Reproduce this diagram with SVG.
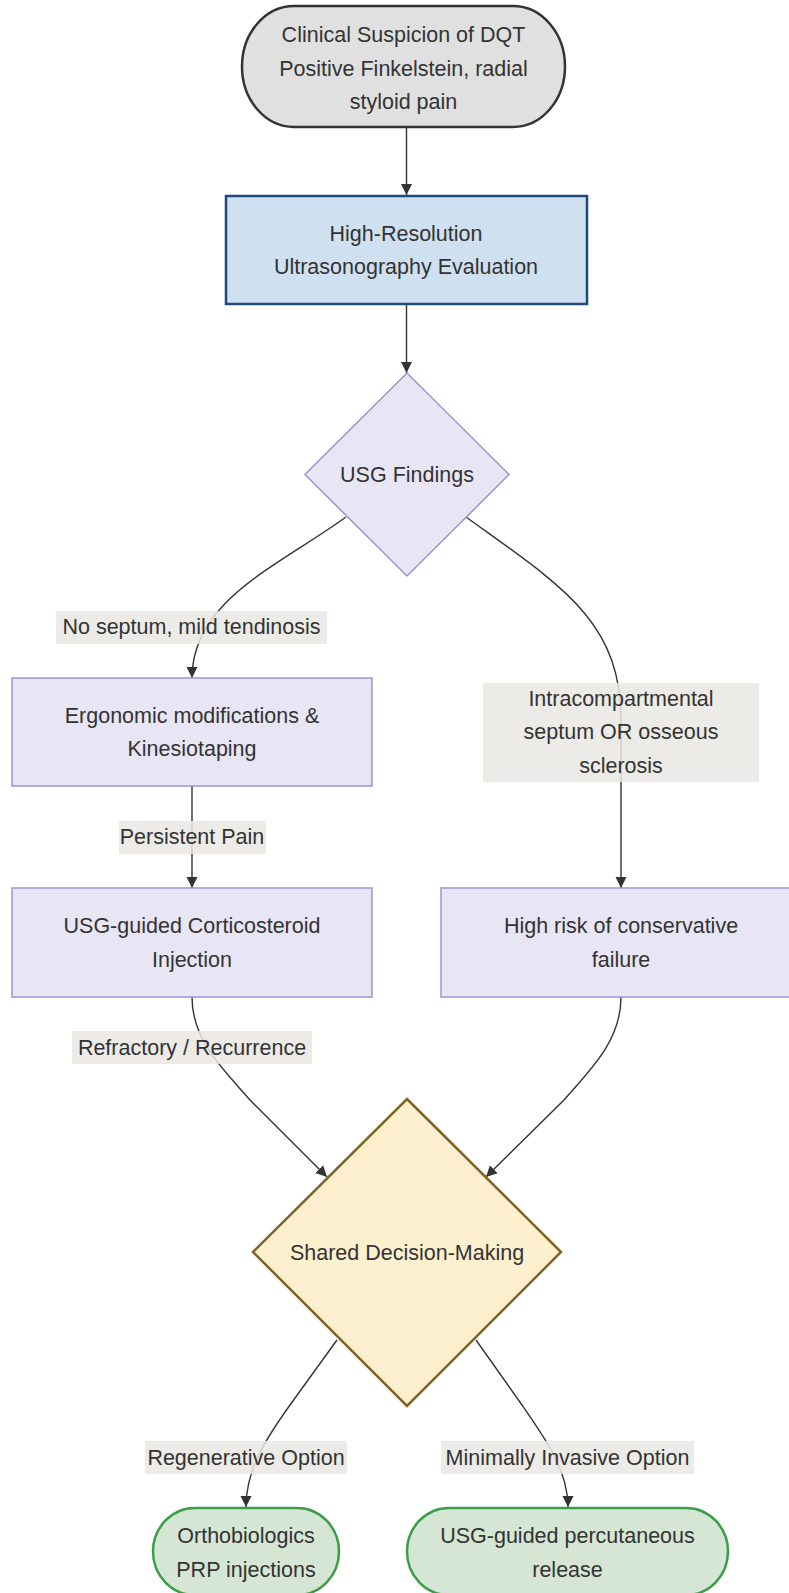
<svg xmlns="http://www.w3.org/2000/svg" width="789" height="1593" viewBox="0 0 789 1593">
<style>
  text { font-family: "Liberation Sans", Arial, sans-serif; font-size: 21.5px; fill: #333333; text-anchor: middle; }
  .edge { fill: none; stroke: #333333; stroke-width: 1.4; marker-end: url(#arrow); }
  .lbl { fill: #e9e7e3; opacity: 0.85; }
  .purple { fill: #e8e6f5; stroke: #9f92d0; stroke-width: 1.5; }
  .green { fill: #d6e6d5; stroke: #3a9d48; stroke-width: 2.5; }
</style>
<defs>
  <marker id="arrow" markerUnits="userSpaceOnUse" markerWidth="12" markerHeight="12" viewBox="0 0 12 12" refX="11" refY="6" orient="auto">
    <path d="M0,0.5 L11,6 L0,11.5 z" fill="#333333"/>
  </marker>
</defs>
<rect x="0" y="0" width="789" height="1593" fill="#ffffff"/>

<g id="connectors">
  <path class="edge" d="M406.5,127 L406.5,195"/>
  <path class="edge" d="M406.5,304 L406.5,373"/>
  <path class="edge" d="M346,517 C280,565 192,600 192,678"/>
  <path class="edge" d="M466,517 C560,585 621,620 621,720 L621,888"/>
  <path class="edge" d="M192,786 L192,888"/>
  <path class="edge" d="M192,997 C192,1040 222,1068 250,1100 L327,1177"/>
  <path class="edge" d="M621,997 C621,1040 592,1068 564,1100 L486,1177"/>
  <path class="edge" d="M337,1340 L290,1405 C265,1440 246,1470 246,1507"/>
  <path class="edge" d="M476,1340 L522,1405 C545,1438 568,1470 568,1507"/>
</g>

<g id="edge-labels">
  <g id="label-no-septum">
    <rect class="lbl" x="56" y="611" width="271" height="33"/>
    <text x="191.5" y="634">No septum, mild tendinosis</text>
  </g>
  <g id="label-septum">
    <rect class="lbl" x="483" y="683" width="276" height="99"/>
    <text x="621" y="705.5">Intracompartmental</text>
    <text x="621" y="739">septum OR osseous</text>
    <text x="621" y="772.5">sclerosis</text>
  </g>
  <g id="label-persistent">
    <rect class="lbl" x="119" y="821" width="147" height="33"/>
    <text x="192" y="844">Persistent Pain</text>
  </g>
  <g id="label-refractory">
    <rect class="lbl" x="72" y="1031" width="240" height="33"/>
    <text x="192" y="1055">Refractory / Recurrence</text>
  </g>
  <g id="label-regenerative">
    <rect class="lbl" x="145" y="1441" width="202" height="33"/>
    <text x="246" y="1465">Regenerative Option</text>
  </g>
  <g id="label-minimally">
    <rect class="lbl" x="441" y="1441" width="253" height="33"/>
    <text x="567.5" y="1465">Minimally Invasive Option</text>
  </g>
</g>

<g id="node-start">
  <rect x="242" y="6" width="323" height="121" rx="52" ry="60.5" fill="#e0e0e0" stroke="#333333" stroke-width="2.5"/>
  <text x="403.5" y="42">Clinical Suspicion of DQT</text>
  <text x="403.5" y="75.5">Positive Finkelstein, radial</text>
  <text x="403.5" y="109">styloid pain</text>
</g>

<g id="node-usg-eval">
  <rect x="226" y="196" width="361" height="108" fill="#cfe0f0" stroke="#1f4a78" stroke-width="2.5"/>
  <text x="406" y="240.5">High-Resolution</text>
  <text x="406" y="274">Ultrasonography Evaluation</text>
</g>

<g id="node-findings">
  <polygon class="purple" points="407,373 509,474.5 407,576 305,474.5"/>
  <text x="407" y="482">USG Findings</text>
</g>

<g id="node-ergonomic">
  <rect class="purple" x="12" y="678" width="360" height="108"/>
  <text x="192" y="722.5">Ergonomic modifications &amp;</text>
  <text x="192" y="756">Kinesiotaping</text>
</g>

<g id="node-cortico">
  <rect class="purple" x="12" y="888" width="360" height="109"/>
  <text x="192" y="933">USG-guided Corticosteroid</text>
  <text x="192" y="966.5">Injection</text>
</g>

<g id="node-highrisk">
  <rect class="purple" x="441" y="888" width="360" height="109"/>
  <text x="621" y="933">High risk of conservative</text>
  <text x="621" y="966.5">failure</text>
</g>

<g id="node-shared">
  <polygon points="407,1099 561,1252 407,1406 253,1252" fill="#fdf0cf" stroke="#826325" stroke-width="2.5"/>
  <text x="407" y="1260">Shared Decision-Making</text>
</g>

<g id="node-ortho">
  <rect class="green" x="153" y="1508" width="186" height="87" rx="42" ry="43.5"/>
  <text x="246" y="1543">Orthobiologics</text>
  <text x="246" y="1576.5">PRP injections</text>
</g>

<g id="node-release">
  <rect class="green" x="407" y="1508" width="321" height="87" rx="42" ry="43.5"/>
  <text x="567.5" y="1543">USG-guided percutaneous</text>
  <text x="567.5" y="1576.5">release</text>
</g>
</svg>
